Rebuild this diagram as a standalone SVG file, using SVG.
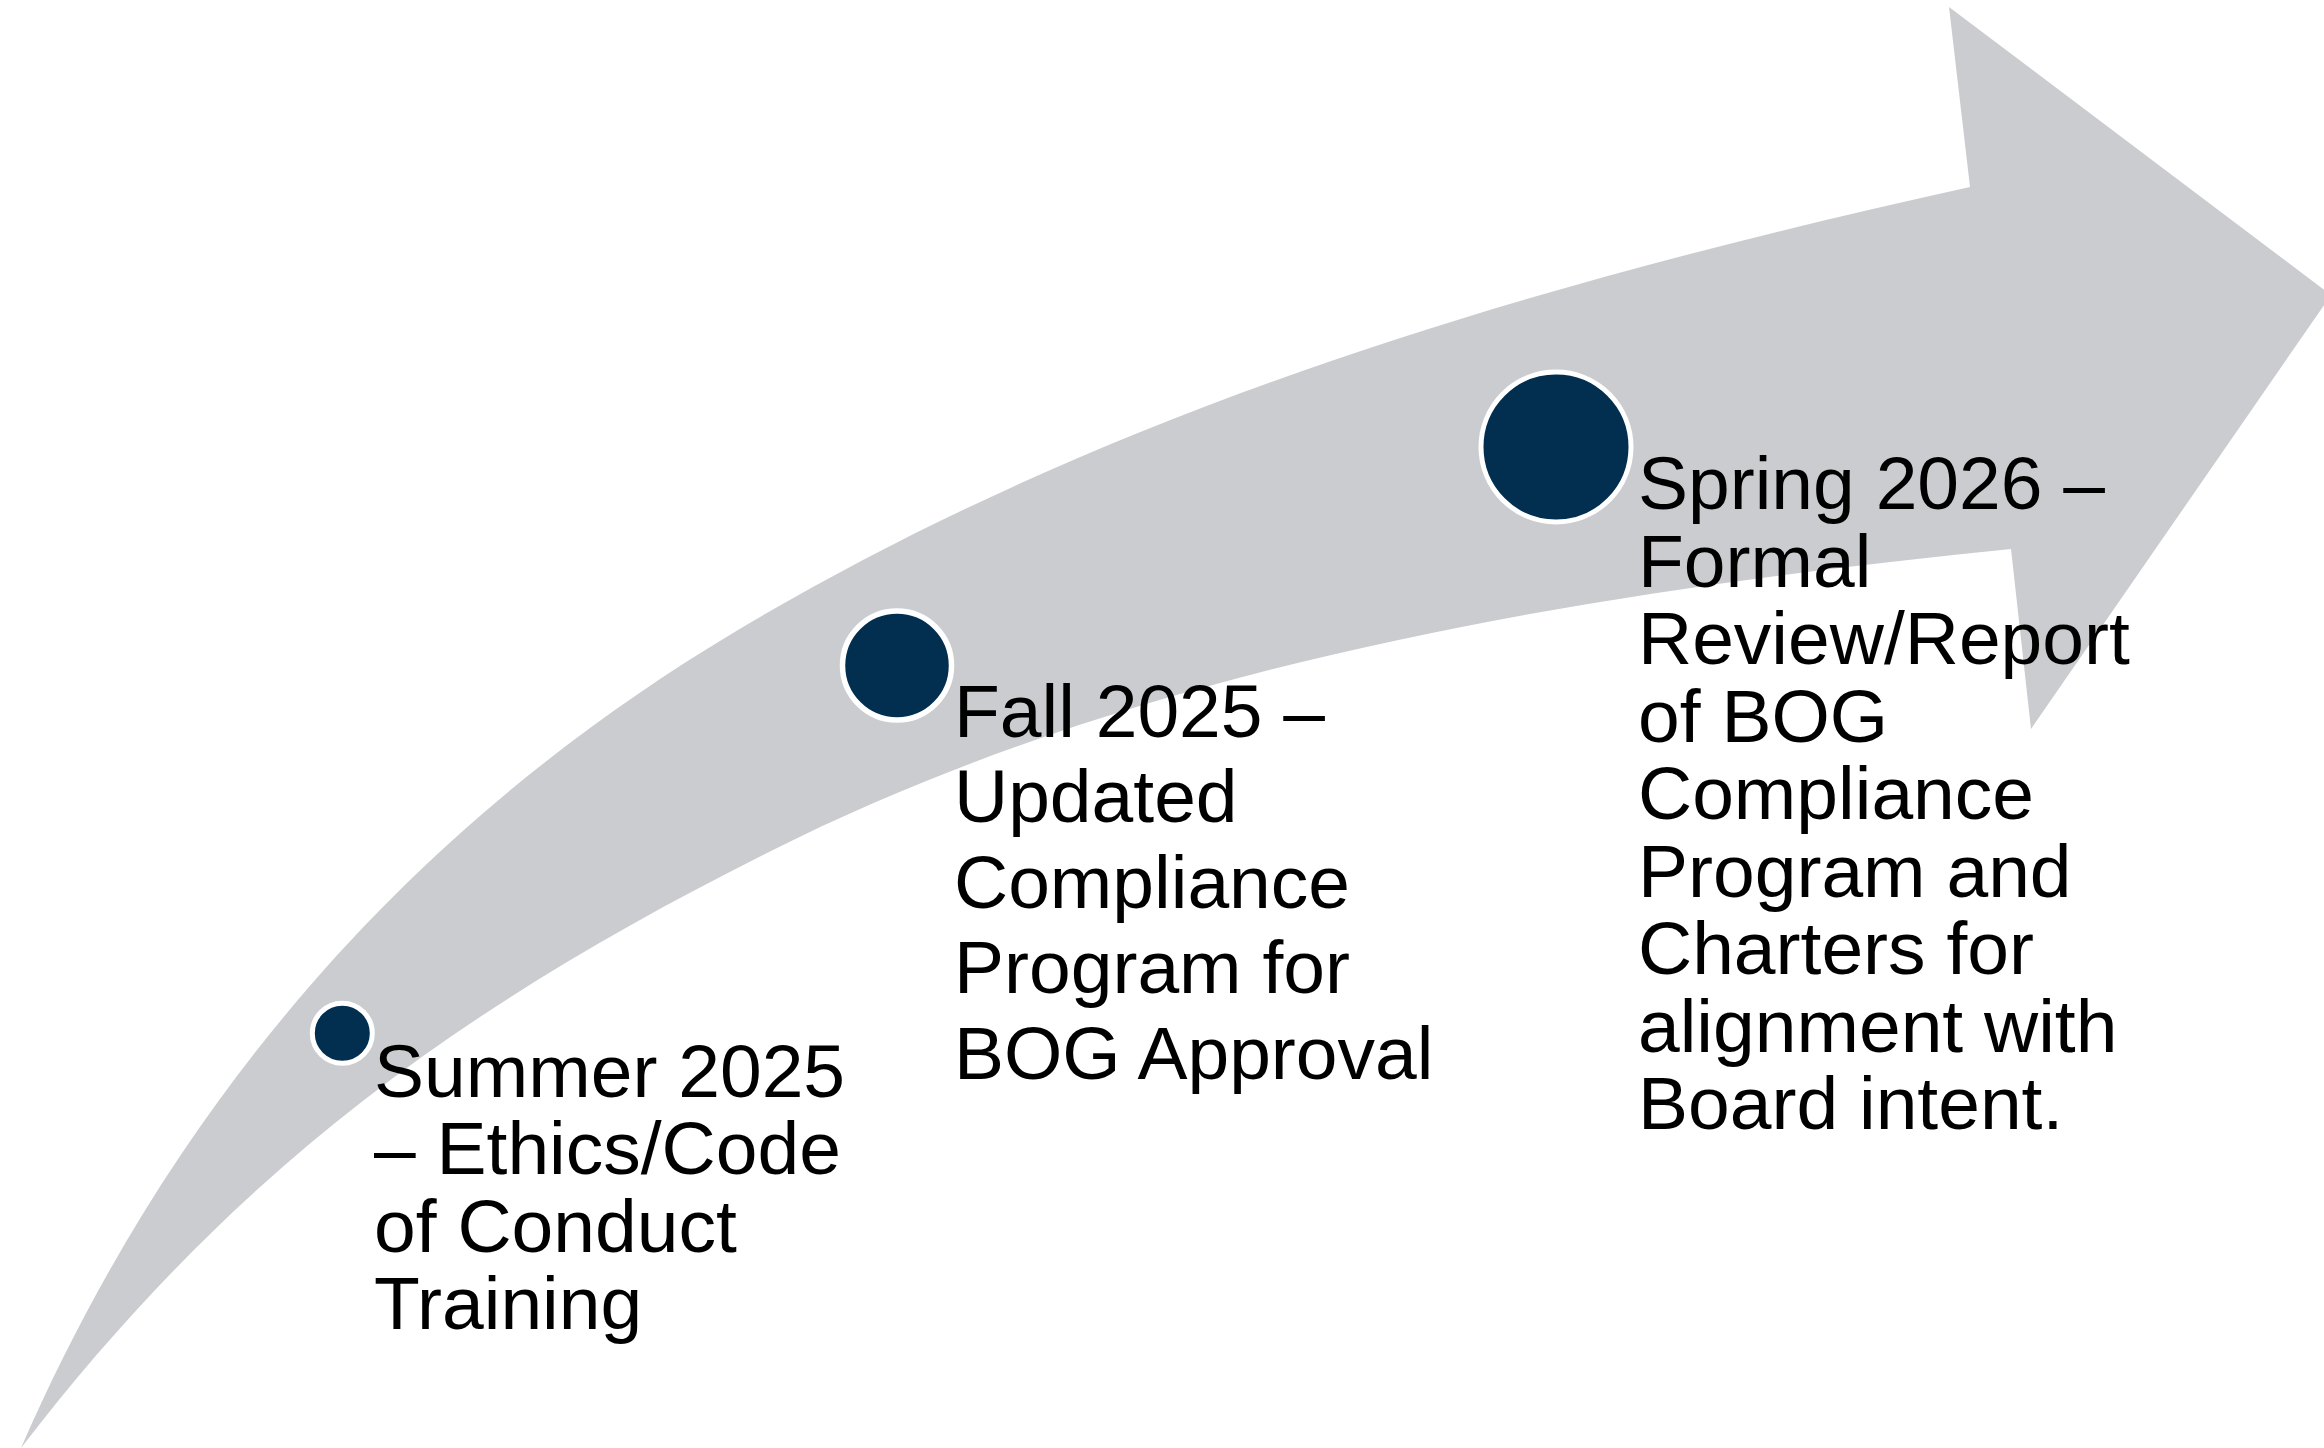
<svg xmlns="http://www.w3.org/2000/svg" width="2324" height="1448" viewBox="0 0 2324 1448">
  <style>
    .band { fill: #CBCCD0; }
    .dot { fill: #022E50; stroke: #FFFFFF; }
    .label { font-family: "Liberation Sans", Arial, sans-serif; fill: #000000; font-size: 75px; }
  </style>
  <rect width="2324" height="1448" fill="#FFFFFF"/>

  <!-- Curved timeline arrow (shaft + head) -->
  <g id="timeline-arrow">
    <path class="band" d="M21,1448
      C201,1035 476,787 733,633
      C1110,407 1540,282 1970,187
      L1949,7
      L2331,295
      L2031,729
      L2011,549
      C1593,591 1148,662 773,850
      C460,1006 234,1171 21,1448 Z"/>
  </g>

  <!-- Milestone 1 -->
  <g id="milestone-summer-2025">
    <circle class="dot" cx="342.3" cy="1033.3" r="30" stroke-width="5"/>
    <text class="label" x="374">
      <tspan x="374" y="1096.5">Summer 2025</tspan>
      <tspan x="374" y="1174">– Ethics/Code</tspan>
      <tspan x="374" y="1251.5">of Conduct</tspan>
      <tspan x="374" y="1329">Training</tspan>
    </text>
  </g>

  <!-- Milestone 2 -->
  <g id="milestone-fall-2025">
    <circle class="dot" cx="897" cy="665.5" r="54.5" stroke-width="5.5"/>
    <text class="label" x="954">
      <tspan x="954" y="736.5">Fall 2025 –</tspan>
      <tspan x="954" y="822">Updated</tspan>
      <tspan x="954" y="907.5">Compliance</tspan>
      <tspan x="954" y="993">Program for</tspan>
      <tspan x="954" y="1078.5">BOG Approval</tspan>
    </text>
  </g>

  <!-- Milestone 3 -->
  <g id="milestone-spring-2026">
    <circle class="dot" cx="1556" cy="447" r="75" stroke-width="5"/>
    <text class="label" x="1638">
      <tspan x="1638" y="509">Spring 2026 –</tspan>
      <tspan x="1638" y="586.5">Formal</tspan>
      <tspan x="1638" y="664">Review/Report</tspan>
      <tspan x="1638" y="741.5">of BOG</tspan>
      <tspan x="1638" y="819">Compliance</tspan>
      <tspan x="1638" y="896.5">Program and</tspan>
      <tspan x="1638" y="974">Charters for</tspan>
      <tspan x="1638" y="1051.5">alignment with</tspan>
      <tspan x="1638" y="1129">Board intent.</tspan>
    </text>
  </g>
</svg>
